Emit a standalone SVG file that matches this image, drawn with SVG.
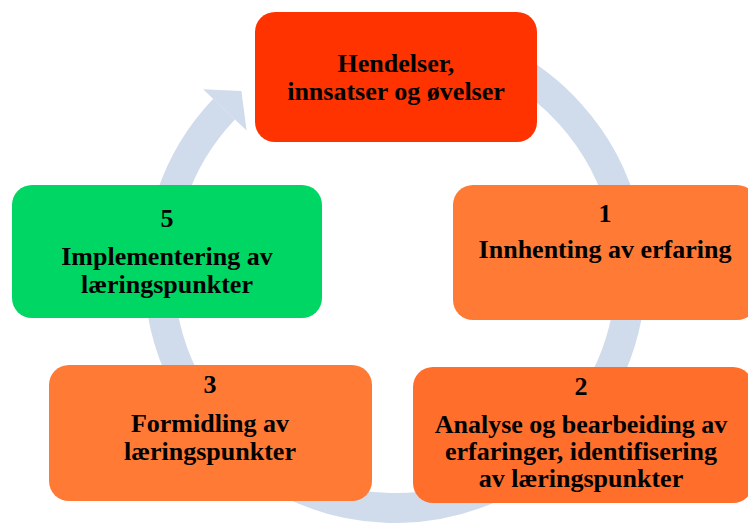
<svg xmlns="http://www.w3.org/2000/svg" width="748" height="523" viewBox="0 0 748 523">
<style>
.t{font-family:"Liberation Serif","Times New Roman",serif;font-weight:bold;font-size:26px;fill:#000;text-anchor:middle}
.box{stroke:none}
</style>
<rect width="748" height="523" fill="#FFFFFF"/>
<g id="connectors">
<path d="M374.4 36.9 A236 236 0 1 1 224.1 109.2" fill="none" stroke="#D0DBEC" stroke-width="30"/>
<polygon points="203.1,89.2 241.4,91.1 246.6,130.6" fill="#D0DBEC"/>
</g>
<g id="node-top">
<rect class="box" x="255" y="12" width="282" height="130" rx="20" fill="#FF3300"/>
<text class="t" x="396" y="72">Hendelser,</text>
<text class="t" x="396" y="100">innsatser og øvelser</text>
</g>
<g id="node-1">
<rect class="box" x="453" y="185" width="304" height="135" rx="20" fill="#FF7A35"/>
<text class="t" x="605" y="222">1</text>
<text class="t" x="605" y="258">Innhenting av erfaring</text>
</g>
<g id="node-5">
<rect class="box" x="12" y="185" width="310" height="133" rx="20" fill="#00D664"/>
<text class="t" x="167" y="227">5</text>
<text class="t" x="167" y="265">Implementering av</text>
<text class="t" x="167" y="293">læringspunkter</text>
</g>
<g id="node-3">
<rect class="box" x="49" y="365" width="323" height="136" rx="20" fill="#FF7A35"/>
<text class="t" x="210" y="393">3</text>
<text class="t" x="210" y="432">Formidling av</text>
<text class="t" x="210" y="460">læringspunkter</text>
</g>
<g id="node-2">
<rect class="box" x="413" y="367" width="340" height="136" rx="20" fill="#FF6E2B"/>
<text class="t" x="581" y="395">2</text>
<text class="t" x="581" y="433">Analyse og bearbeiding av</text>
<text class="t" x="581" y="460">erfaringer, identifisering</text>
<text class="t" x="581" y="487">av læringspunkter</text>
</g>
</svg>
